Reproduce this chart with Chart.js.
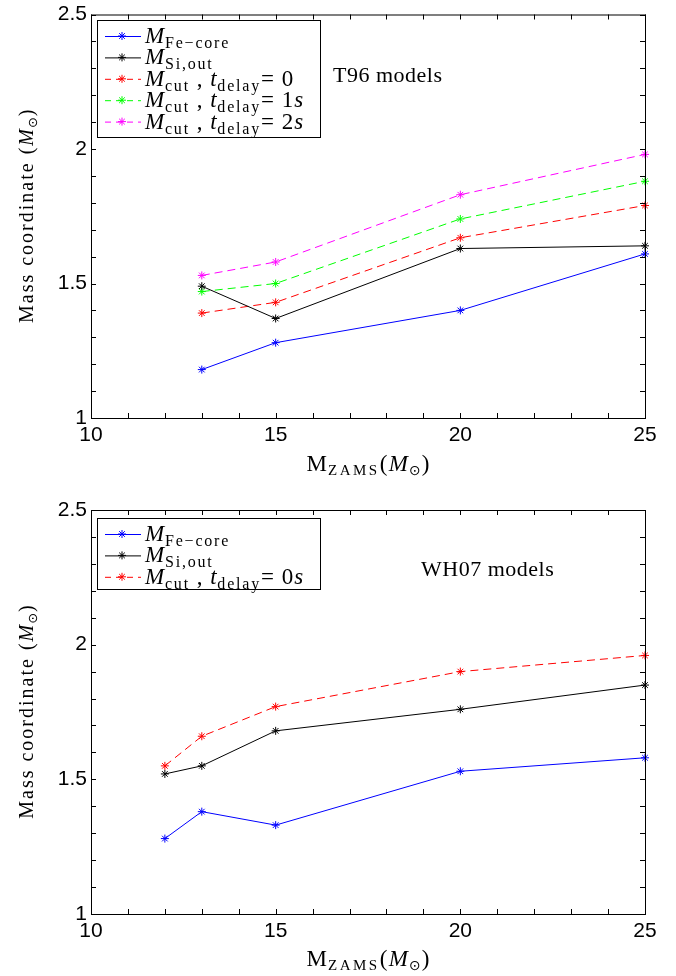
<!DOCTYPE html>
<html>
<head>
<meta charset="utf-8">
<script src="https://cdn.jsdelivr.net/npm/chart.js@4.4.1/dist/chart.umd.min.js"></script>
<style>
  html, body { margin: 0; padding: 0; background: #fff; }
  canvas { display: block; }
</style>
</head>
<body>
<canvas id="top" width="676" height="488"></canvas>
<canvas id="bottom" width="676" height="488"></canvas>
<script>
// T96 models
const t96Mass = [13, 15, 20, 25];
const t96FeCore = [1.18, 1.28, 1.40, 1.61];
const t96SiOut = [1.49, 1.37, 1.63, 1.64];
const t96Cut0 = [1.39, 1.43, 1.67, 1.79];
const t96Cut1 = [1.47, 1.50, 1.74, 1.88];
const t96Cut2 = [1.53, 1.58, 1.83, 1.98];

// WH07 models
const wh07Mass = [12, 13, 15, 20, 25];
const wh07FeCore = [1.28, 1.38, 1.33, 1.53, 1.58];
const wh07SiOut = [1.52, 1.55, 1.68, 1.76, 1.85];
const wh07Cut0 = [1.55, 1.66, 1.77, 1.90, 1.96];

// axes
const xMin = 10, xMax = 25, xStep = 5, xMinorStep = 1;
const yMin = 1, yMax = 2.5, yStep = 0.5, yMinorStep = 0.1;

const SERIF = '"Liberation Serif", "DejaVu Serif", serif';
const SANS = '"Liberation Sans", Arial, sans-serif';

const pts = (xs, ys) => xs.map((x, i) => ({ x: x, y: ys[i] }));

// rich text pieces: big italic M with a small roman subscript, etc.
const it = t => ({ t: t, font: 'italic 23px ' + SERIF, ls: 0.8 });
const rm = t => ({ t: t, font: '23px ' + SERIF, ls: 1 });
const sub = t => ({ t: t, font: '16px ' + SERIF, dy: 5, ls: 1.8 });

const lblFe = [it('M'), sub('Fe\u2212core')];
const lblSi = [it('M'), sub('Si,out')];
const lblCut = tail => [it('M'), sub('cut'), rm(' , '), it('t'), sub('delay'), ...tail];

function richWidth(ctx, segs) {
  let w = 0;
  segs.forEach(s => {
    ctx.font = s.font;
    ctx.letterSpacing = (s.ls || 0) + 'px';
    w += ctx.measureText(s.t).width;
  });
  ctx.letterSpacing = '0px';
  return w;
}

function drawRich(ctx, segs, x, y) {
  segs.forEach(s => {
    ctx.font = s.font;
    ctx.letterSpacing = (s.ls || 0) + 'px';
    ctx.fillText(s.t, x, y + (s.dy || 0));
    x += ctx.measureText(s.t).width;
  });
  ctx.letterSpacing = '0px';
  return x;
}

function line(label, ys, xs, color, dashed) {
  return {
    label: label,
    data: pts(xs, ys),
    borderColor: color,
    backgroundColor: color,
    borderWidth: 1,
    borderDash: dashed ? [8, 5] : [],
    pointStyle: 'star',
    pointRadius: 4,
    pointBorderWidth: 1,
    pointBorderColor: color,
    tension: 0,
    fill: false,
    clip: false
  };
}

// frame, inward minor ticks, axis titles, legend box and model note
function decorPlugin(cfg) {
  return {
    id: 'decor',
    afterDatasetsDraw(chart) {
      const ctx = chart.ctx;
      const { left, right, top, bottom } = chart.chartArea;
      const xs = chart.scales.x, ys = chart.scales.y;
      ctx.save();
      ctx.strokeStyle = '#000';
      ctx.lineWidth = 1;
      ctx.setLineDash([]);
      ctx.strokeRect(left + 0.5, top + 0.5, right - left, bottom - top);
      const tl = 5;
      ctx.beginPath();
      for (let v = xMin; v <= xMax; v += xMinorStep) {
        const px = Math.round(xs.getPixelForValue(v)) + 0.5;
        ctx.moveTo(px, bottom); ctx.lineTo(px, bottom - tl);
        ctx.moveTo(px, top); ctx.lineTo(px, top + tl);
      }
      const n = Math.round((yMax - yMin) / yMinorStep);
      for (let i = 0; i <= n; i++) {
        const py = Math.round(ys.getPixelForValue(yMin + i * yMinorStep)) + 0.5;
        ctx.moveTo(left, py); ctx.lineTo(left + tl, py);
        ctx.moveTo(right, py); ctx.lineTo(right - tl, py);
      }
      ctx.stroke();

      ctx.fillStyle = '#000';
      ctx.textBaseline = 'alphabetic';
      ctx.textAlign = 'left';

      // x title
      const xt = [
        { t: 'M', font: '23px ' + SERIF, ls: 1 },
        { t: 'ZAMS', font: '15px ' + SERIF, dy: 4, ls: 2.5 },
        { t: '(', font: '23px ' + SERIF, ls: 1.5 },
        { t: 'M', font: 'italic 23px ' + SERIF, ls: 1 },
        { t: '\u2299', font: '14px "DejaVu Sans", sans-serif', dy: 4, ls: 1 },
        { t: ')', font: '23px ' + SERIF }
      ];
      const xw = richWidth(ctx, xt);
      drawRich(ctx, xt, (left + right) / 2 - xw / 2, cfg.xTitleY);

      // y title
      const yt = [
        { t: 'Mass coordinate (', font: '20px ' + SERIF, ls: 2 },
        { t: 'M', font: 'italic 20px ' + SERIF, ls: 1 },
        { t: '\u2299', font: '13px "DejaVu Sans", sans-serif', dy: 4, ls: 1 },
        { t: ')', font: '20px ' + SERIF }
      ];
      const yw = richWidth(ctx, yt);
      ctx.save();
      ctx.translate(33, (top + bottom) / 2);
      ctx.rotate(-Math.PI / 2);
      drawRich(ctx, yt, -yw / 2, 0);
      ctx.restore();

      // legend
      const b = cfg.legendBox;
      ctx.fillStyle = '#fff';
      ctx.fillRect(b[0], b[1], b[2] - b[0], b[3] - b[1]);
      ctx.strokeStyle = '#000';
      ctx.strokeRect(b[0] + 0.5, b[1] + 0.5, b[2] - b[0], b[3] - b[1]);
      chart.data.datasets.forEach((ds, i) => {
        const cy = b[1] + 16 + i * 21.4;
        ctx.strokeStyle = ds.borderColor;
        ctx.lineWidth = 1;
        ctx.setLineDash(ds.borderDash.length ? [6, 5] : []);
        ctx.beginPath();
        ctx.moveTo(b[0] + 8, cy + 0.5);
        ctx.lineTo(b[0] + 44, cy + 0.5);
        ctx.stroke();
        ctx.setLineDash([]);
        Chart.helpers.drawPoint(ctx, { pointStyle: 'star', radius: 4, borderWidth: 1 }, b[0] + 25, cy);
        ctx.fillStyle = '#000';
        drawRich(ctx, cfg.legendLabels[i], b[0] + 48, cy + 7);
      });

      // note
      ctx.fillStyle = '#000';
      ctx.font = '22px ' + SERIF;
      ctx.letterSpacing = '0.5px';
      ctx.fillText(cfg.note, cfg.noteX, cfg.noteY);
      ctx.letterSpacing = '0px';
      ctx.restore();
    }
  };
}

function makeChart(id, datasets, cfg) {
  return new Chart(document.getElementById(id), {
    type: 'line',
    data: { datasets: datasets },
    options: {
      responsive: false,
      animation: false,
      layout: { padding: { top: cfg.padTop, right: 31, left: 0, bottom: 0 } },
      plugins: { legend: { display: false }, tooltip: { enabled: false } },
      scales: {
        x: {
          type: 'linear', min: xMin, max: xMax,
          grid: { display: false, drawTicks: false },
          border: { display: false },
          ticks: { stepSize: xStep, padding: 5, color: '#000', maxRotation: 0, autoSkip: false,
                   font: { family: SANS, size: 21 } },
          afterFit: s => { s.height = cfg.xHeight; }
        },
        y: {
          min: yMin, max: yMax,
          grid: { display: false, drawTicks: false },
          border: { display: false },
          ticks: { stepSize: yStep, padding: 4, color: '#000',
                   font: { family: SANS, size: 21, lineHeight: 1 }, callback: v => String(v) },
          afterFit: s => { s.width = 91; }
        }
      }
    },
    plugins: [decorPlugin(cfg)]
  });
}

makeChart('top', [
  line('M Fe-core', t96FeCore, t96Mass, '#0000ff', false),
  line('M Si,out', t96SiOut, t96Mass, '#000000', false),
  line('M cut, t delay = 0', t96Cut0, t96Mass, '#ff0000', true),
  line('M cut, t delay = 1s', t96Cut1, t96Mass, '#00ff00', true),
  line('M cut, t delay = 2s', t96Cut2, t96Mass, '#ff00ff', true)
], {
  padTop: 14, xHeight: 70, xTitleY: 471,
  legendBox: [97, 20, 320, 137],
  legendLabels: [lblFe, lblSi, lblCut([rm('= 0')]), lblCut([rm('= 1'), it('s')]), lblCut([rm('= 2'), it('s')])],
  note: 'T96 models', noteX: 333, noteY: 82
});

makeChart('bottom', [
  line('M Fe-core', wh07FeCore, wh07Mass, '#0000ff', false),
  line('M Si,out', wh07SiOut, wh07Mass, '#000000', false),
  line('M cut, t delay = 0s', wh07Cut0, wh07Mass, '#ff0000', true)
], {
  padTop: 22, xHeight: 62, xTitleY: 478,
  legendBox: [97, 30, 320, 101],
  legendLabels: [lblFe, lblSi, lblCut([rm('= 0'), it('s')])],
  note: 'WH07 models', noteX: 421, noteY: 88
});
</script>
</body>
</html>
